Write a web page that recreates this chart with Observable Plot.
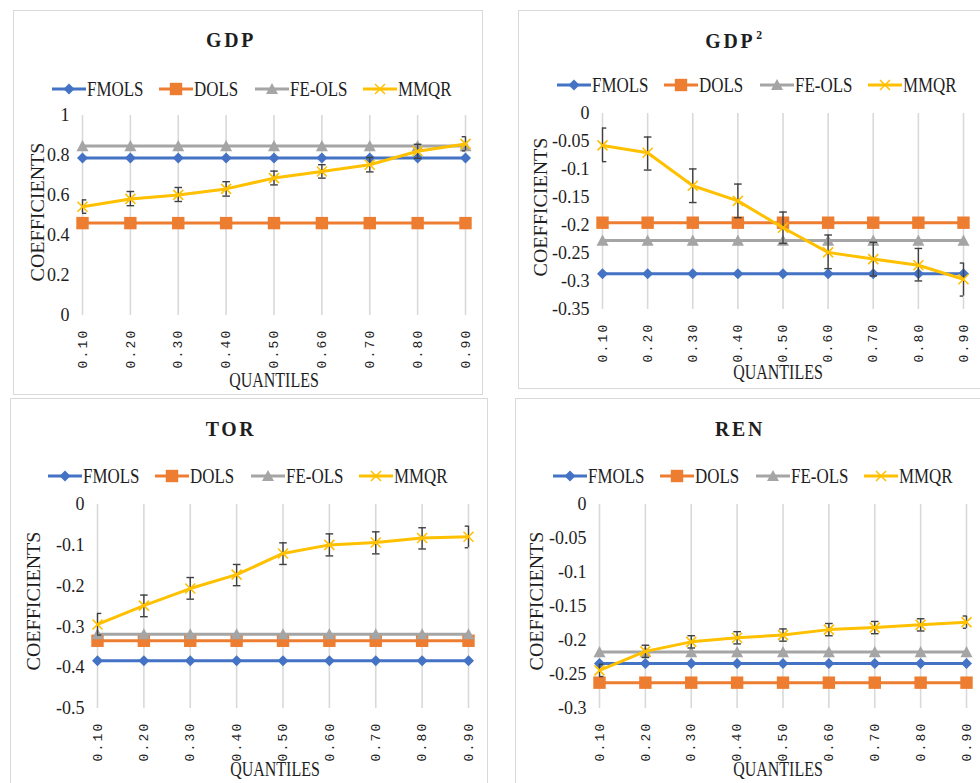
<!DOCTYPE html>
<html><head><meta charset="utf-8">
<script src="https://cdn.jsdelivr.net/npm/d3@7"></script>
<script src="https://cdn.jsdelivr.net/npm/@observablehq/plot@0.6"></script>
<style>
body{margin:0;background:#fff;width:980px;height:783px;overflow:hidden;position:relative;font-family:"Liberation Serif","Times New Roman",serif;color:#1e1e1e;}
.box{position:absolute;border:1.5px solid #d9d9d9;box-sizing:border-box;}
.abs{position:absolute;white-space:nowrap;line-height:1;}
.title{font-weight:bold;font-size:22px;letter-spacing:3px;transform:translateX(-50%) scaleX(0.9);}
.xlab{font-size:21px;transform:translateX(-50%) scaleX(0.76);}
.ylab{font-size:20px;transform:translate(-50%,-50%) rotate(-90deg) scaleY(0.9);}
.legtext{font-size:22px;transform-origin:0 50%;transform:scaleX(0.77);}
svg [aria-label="x-axis tick label"] text{letter-spacing:2.2px;}
</style></head>
<body>
<script>
// ---------- data ----------
const quantiles = [0.1, 0.2, 0.3, 0.4, 0.5, 0.6, 0.7, 0.8, 0.9];
const seriesNames = ["FMOLS", "DOLS", "FE-OLS", "MMQR"];

// GDP
const gdpFMOLS = [0.787, 0.787, 0.787, 0.787, 0.787, 0.787, 0.787, 0.787, 0.787];
const gdpDOLS  = [0.462, 0.462, 0.462, 0.462, 0.462, 0.462, 0.462, 0.462, 0.462];
const gdpFEOLS = [0.847, 0.847, 0.847, 0.847, 0.847, 0.847, 0.847, 0.847, 0.847];
const gdpMMQR  = [0.544, 0.583, 0.603, 0.633, 0.687, 0.720, 0.754, 0.821, 0.858];
const gdpLo    = [0.511, 0.549, 0.570, 0.597, 0.653, 0.687, 0.718, 0.786, 0.823];
const gdpHi    = [0.578, 0.620, 0.640, 0.669, 0.722, 0.754, 0.790, 0.856, 0.894];

// GDP^2
const gdp2FMOLS = [-0.286, -0.286, -0.286, -0.286, -0.286, -0.286, -0.286, -0.286, -0.286];
const gdp2DOLS  = [-0.195, -0.195, -0.195, -0.195, -0.195, -0.195, -0.195, -0.195, -0.195];
const gdp2FEOLS = [-0.227, -0.227, -0.227, -0.227, -0.227, -0.227, -0.227, -0.227, -0.227];
const gdp2MMQR  = [-0.057, -0.070, -0.129, -0.156, -0.204, -0.248, -0.260, -0.271, -0.296];
const gdp2Lo    = [-0.086, -0.101, -0.159, -0.186, -0.232, -0.277, -0.290, -0.299, -0.326];
const gdp2Hi    = [-0.026, -0.042, -0.099, -0.126, -0.176, -0.217, -0.230, -0.241, -0.267];

// TOR
const torFMOLS = [-0.383, -0.383, -0.383, -0.383, -0.383, -0.383, -0.383, -0.383, -0.383];
const torDOLS  = [-0.334, -0.334, -0.334, -0.334, -0.334, -0.334, -0.334, -0.334, -0.334];
const torFEOLS = [-0.318, -0.318, -0.318, -0.318, -0.318, -0.318, -0.318, -0.318, -0.318];
const torMMQR  = [-0.294, -0.248, -0.206, -0.172, -0.120, -0.099, -0.093, -0.082, -0.079];
const torLo    = [-0.320, -0.275, -0.232, -0.199, -0.147, -0.126, -0.121, -0.109, -0.106];
const torHi    = [-0.267, -0.222, -0.179, -0.147, -0.094, -0.072, -0.067, -0.057, -0.053];

// REN
const renFMOLS = [-0.234, -0.234, -0.234, -0.234, -0.234, -0.234, -0.234, -0.234, -0.234];
const renDOLS  = [-0.262, -0.262, -0.262, -0.262, -0.262, -0.262, -0.262, -0.262, -0.262];
const renFEOLS = [-0.217, -0.217, -0.217, -0.217, -0.217, -0.217, -0.217, -0.217, -0.217];
const renMMQR  = [-0.244, -0.216, -0.202, -0.196, -0.192, -0.184, -0.181, -0.177, -0.173];
const renLo    = [-0.253, -0.225, -0.211, -0.205, -0.201, -0.193, -0.190, -0.186, -0.182];
const renHi    = [-0.235, -0.207, -0.193, -0.187, -0.183, -0.175, -0.172, -0.168, -0.164];

// axis ticks
const gdpTicks  = [0, 0.2, 0.4, 0.6, 0.8, 1];
const gdp2Ticks = [0, -0.05, -0.1, -0.15, -0.2, -0.25, -0.3, -0.35];
const torTicks  = [0, -0.1, -0.2, -0.3, -0.4, -0.5];
const renTicks  = [0, -0.05, -0.1, -0.15, -0.2, -0.25, -0.3];

// ---------- symbols & styles ----------
const sym = fn => ({draw(c, size) { const r = Math.sqrt(size / Math.PI); fn(c, r); }});
const diamond = sym((c, r) => { c.moveTo(0, -r); c.lineTo(r, 0); c.lineTo(0, r); c.lineTo(-r, 0); c.closePath(); });
const square = sym((c, r) => { c.rect(-r, -r, 2 * r, 2 * r); });
const triangle = sym((c, r) => { c.moveTo(0, -r); c.lineTo(r, r * 0.85); c.lineTo(-r, r * 0.85); c.closePath(); });
const times = sym((c, r) => { c.moveTo(-r, -r); c.lineTo(r, r); c.moveTo(r, -r); c.lineTo(-r, r); });
const cap = sym((c, r) => { c.moveTo(-r, 0); c.lineTo(r, 0); });

const styles = {
  "FMOLS":  {color: "#4472c4", symbol: diamond, r: 5.5, filled: true},
  "DOLS":   {color: "#ed7d31", symbol: square, r: 6.2, filled: true},
  "FE-OLS": {color: "#a5a5a5", symbol: triangle, r: 6, filled: true},
  "MMQR":   {color: "#ffc000", symbol: times, r: 5, filled: false}
};

const panels = [
  {title: "GDP", sup: "", box: [13, 10, 483, 395], plot: [82, 115, 465, 315], titleX: 231, titleBase: 47,
   legX: 52, legY: 89, qX: 274, qBase: 388, cX: 38, cY: 212, domain: [0, 1], ticks: gdpTicks,
   values: [gdpFMOLS, gdpDOLS, gdpFEOLS, gdpMMQR], lo: gdpLo, hi: gdpHi},
  {title: "GDP", sup: "2", box: [518, 10, 990, 389], plot: [602, 113, 963, 309], titleX: 735, titleBase: 46,
   legX: 557, legY: 85, qX: 778, qBase: 380, cX: 541, cY: 207, domain: [-0.35, 0], ticks: gdp2Ticks,
   values: [gdp2FMOLS, gdp2DOLS, gdp2FEOLS, gdp2MMQR], lo: gdp2Lo, hi: gdp2Hi},
  {title: "TOR", sup: "", box: [10, 398, 488, 800], plot: [97, 504, 468, 708], titleX: 231, titleBase: 436,
   legX: 48, legY: 476, qX: 275, qBase: 777, cX: 34, cY: 601, domain: [-0.5, 0], ticks: torTicks,
   values: [torFMOLS, torDOLS, torFEOLS, torMMQR], lo: torLo, hi: torHi},
  {title: "REN", sup: "", box: [515, 398, 990, 800], plot: [599, 504, 966, 708], titleX: 740, titleBase: 436,
   legX: 553, legY: 476, qX: 778, qBase: 777, cX: 537, cY: 601, domain: [-0.3, 0], ticks: renTicks,
   values: [renFMOLS, renDOLS, renFEOLS, renMMQR], lo: renLo, hi: renHi}
];

const body = d3.select("body");
const fmtY = d => String(Math.round(d * 100) / 100);

function addText(cls, html, left, baseline, fs) {
  body.append("div").attr("class", "abs " + cls)
    .style("left", left + "px").style("top", (baseline - 0.8375 * fs) + "px").html(html);
}

function legend(x0, cy) {
  let x = x0;
  for (const name of seriesNames) {
    const s = styles[name];
    const svg = body.append("svg").attr("width", 34).attr("height", 20)
      .style("position", "absolute").style("left", x + "px").style("top", (cy - 10) + "px").style("overflow", "visible");
    svg.append("line").attr("x1", 0).attr("x2", 34).attr("y1", 10).attr("y2", 10)
      .attr("stroke", s.color).attr("stroke-width", 3);
    svg.append("path").attr("transform", "translate(17,10)")
      .attr("d", d3.symbol(s.symbol, Math.PI * s.r * s.r)())
      .attr("fill", s.filled ? s.color : "none").attr("stroke", s.color).attr("stroke-width", s.filled ? 0 : 1.5);
    x += 35;
    const sp = body.append("div").attr("class", "abs legtext").style("left", x + "px")
      .style("top", (cy + 0.331 * 22 - 0.8375 * 22) + "px").text(name);
    const w = sp.node().getBoundingClientRect().width;
    x += w + 16;
  }
}

for (const p of panels) {
  const [bx0, by0, bx1, by1] = p.box;
  body.append("div").attr("class", "box")
    .style("left", bx0 + "px").style("top", by0 + "px")
    .style("width", (bx1 - bx0) + "px").style("height", (by1 - by0) + "px");

  addText("title", p.title + (p.sup ? `<sup style="font-size:13px;vertical-align:9px;margin-left:1px">${p.sup}</sup>` : ""), p.titleX, p.titleBase, 22);
  legend(p.legX, p.legY);
  addText("xlab", "QUANTILES", p.qX, p.qBase, 21);
  body.append("div").attr("class", "abs ylab").style("left", p.cX + "px").style("top", p.cY + "px").text("COEFFICIENTS");

  // table of rows
  const rows = [];
  seriesNames.forEach((name, i) => {
    quantiles.forEach((q, j) => rows.push({series: name, q, v: p.values[i][j]}));
  });
  const err = quantiles.map((q, j) => ({q, lo: p.lo[j], hi: p.hi[j]}));

  const [px0, py0, px1, py1] = p.plot;
  const sLeft = bx0, sTop = py0 - 15;
  const sRight = Math.min(bx1, 980);
  const sBottom = py1 + 62;
  const width = sRight - sLeft, height = sBottom - sTop;

  const marks = [
    Plot.gridX({ticks: quantiles, stroke: "#d9d9d9", strokeOpacity: 1, strokeWidth: 1.6}),
    Plot.axisY({ticks: p.ticks, tickSize: 0, tickPadding: 13, tickFormat: fmtY, fontSize: 18, label: null}),
    Plot.axisX({ticks: quantiles, tickSize: 0, tickPadding: 13, tickRotate: -90, tickFormat: d => d.toFixed(2),
      fontFamily: "Liberation Mono", fontSize: 13, label: null})
  ];
  for (const name of seriesNames) {
    const s = styles[name];
    const data = rows.filter(d => d.series === name);
    if (name === "MMQR") {
      marks.push(Plot.ruleX(err, {x: "q", y1: "lo", y2: "hi", stroke: "#404040", strokeWidth: 1.4}));
      marks.push(Plot.dot(err, {x: "q", y: "lo", symbol: cap, r: 3.8, stroke: "#404040", strokeWidth: 1.4, fill: "none", clip: true}));
      marks.push(Plot.dot(err, {x: "q", y: "hi", symbol: cap, r: 3.8, stroke: "#404040", strokeWidth: 1.4, fill: "none", clip: true}));
    }
    marks.push(Plot.line(data, {x: "q", y: "v", stroke: s.color, strokeWidth: 3, strokeLinejoin: "round"}));
    marks.push(Plot.dot(data, {x: "q", y: "v", symbol: s.symbol, r: s.r,
      fill: s.filled ? s.color : "none", stroke: s.filled ? "none" : s.color, strokeWidth: s.filled ? 0 : 1.6}));
  }

  const chart = Plot.plot({
    width, height,
    marginLeft: px0 - sLeft, marginRight: sRight - px1, marginTop: py0 - sTop, marginBottom: sBottom - py1,
    x: {domain: [0.1, 0.9]},
    y: {domain: p.domain},
    style: {fontFamily: "'Liberation Serif', 'Times New Roman', serif", fontSize: "18px", color: "#1e1e1e", background: "transparent", overflow: "visible"},
    marks
  });
  d3.select(chart).style("position", "absolute").style("left", sLeft + "px").style("top", sTop + "px");
  body.node().appendChild(chart);
}
</script>
</body></html>
